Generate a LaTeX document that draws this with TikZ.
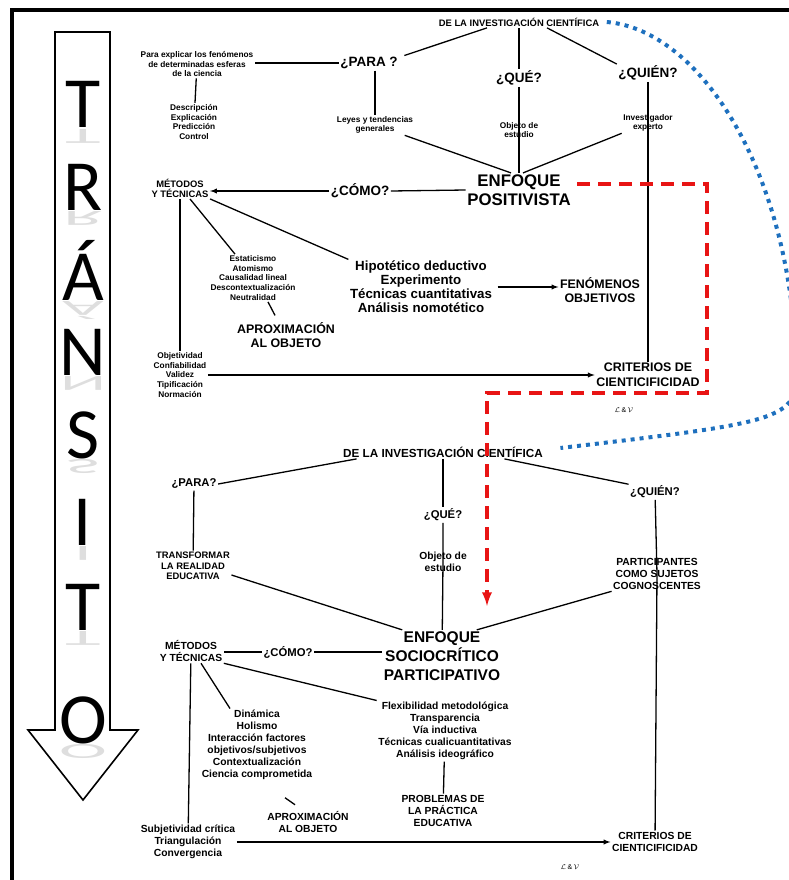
\documentclass[tikz,border=0pt]{standalone}
\usepackage{graphicx}
\usepackage{fontspec}
\setmainfont{Liberation Sans}
\newfontfamily\letrafont{Carlito}
\usetikzlibrary{arrows}
\definecolor{R}{RGB}{232, 20, 20}
\definecolor{B}{RGB}{30, 112, 190}
\tikzset{
  chica/.style={font=\bfseries\fontsize{8.3}{9.6}\selectfont, align=center, inner sep=1pt},
  media/.style={font=\bfseries\fontsize{9.4}{10.2}\selectfont, align=center, inner sep=1pt},
  grande/.style={font=\bfseries\fontsize{12.4}{14.8}\selectfont, align=center, inner sep=1pt},
  lista/.style={font=\bfseries\fontsize{13.3}{14}\selectfont, align=center, inner sep=1pt},
  pregunta/.style={font=\bfseries\fontsize{13.5}{15}\selectfont, inner sep=1pt},
  enfoque/.style={font=\bfseries\fontsize{16.8}{19}\selectfont, align=center, inner sep=1pt},
  normal/.style={font=\bfseries\fontsize{10.3}{12}\selectfont, align=center, inner sep=1pt},
  preg/.style={font=\bfseries\fontsize{11.3}{13}\selectfont, inner sep=1pt},
  titulo/.style={font=\bfseries\fontsize{11.7}{13}\selectfont, inner sep=1pt},
  enfoqueb/.style={font=\bfseries\fontsize{15.5}{19}\selectfont, align=center, inner sep=1pt},
  firma/.style={font=\fontsize{7}{7}\selectfont, inner sep=0pt},
  letra/.style={font=\letrafont\fontsize{72}{72}\selectfont, inner sep=0pt},
  rojo/.style={color=R, line width=3.6pt, dash pattern=on 13pt off 8pt},
  azul/.style={color=B, line width=4pt, dash pattern=on 4pt off 5pt}
}

\begin{document}
\begin{tikzpicture}[x=1pt, y=-1pt, line width=1.3pt]
  \useasboundingbox (0,0) rectangle (788,880);
  % Marco
  \draw[line width=4pt] (12,882) -- (12,10) -- (790,10);

  % Flecha del transito
  \draw[line width=1.6pt, fill=white] (55,32) -- (110,32) -- (110,730) -- (138,730)
     -- (83,800) -- (28,730) -- (55,730) -- cycle;
  \foreach \l/\y [count=\i] in {T/128, R/210, Á/300, N/375, S/458, I/545, T/630, O/743}{
     \node[letra, text=black!13, anchor=north] (s\i) at (83,\y+1) {\scalebox{1}[-0.3]{\l}};
     \node[letra, anchor=base] (l\i) at (83,\y) {\l};
  }

  % Enfoque positivista (arriba)
  \node[media] (dela1) at (519,22) {DE LA INVESTIGACIÓN CIENTÍFICA};
  \node[pregunta] (para1) at (369,63) {¿PARA ?};
  \node[pregunta] (que1) at (519,78) {¿QUÉ?};
  \node[pregunta] (quien1) at (648,73) {¿QUIÉN?};
  \node[chica] (explicar) at (197,64) {Para explicar los fenómenos\\de determinadas esferas\\de la ciencia};
  \node[chica] (descr) at (194,122) {Descripción\\Explicación\\Predicción\\Control};
  \node[chica] (leyes) at (375,125) {Leyes y tendencias\\generales};
  \node[chica] (objeto1) at (519,130) {Objeto de\\estudio};
  \node[chica] (invest) at (648,123) {Investigador\\experto};
  \node[enfoque] (enfoque1) at (519,190) {ENFOQUE\\POSITIVISTA};
  \node[pregunta] (como1) at (360,191) {¿CÓMO?};
  \node[media] (metodos1) at (180,188) {MÉTODOS\\Y TÉCNICAS};
  \node[chica] (estat) at (253,278) {Estaticismo\\Atomismo\\Causalidad lineal\\Descontextualización\\Neutralidad};
  \node[grande] (aprox1) at (286,335) {APROXIMACIÓN\\AL OBJETO};
  \node[lista] (hipo) at (421,287) {Hipotético deductivo\\Experimento\\Técnicas cuantitativas\\Análisis nomotético};
  \node[grande] (fenom) at (600,290) {FENÓMENOS\\OBJETIVOS};
  \node[chica] (objetiv) at (180,375) {Objetividad\\Confiabilidad\\Validez\\Tipificación\\Normación};
  \node[grande] (criterios1) at (648,375) {CRITERIOS DE\\CIENTICIFICIDAD};
  \node[firma] (firma1) at (624,410) {$\mathcal{L}\,\&\,\mathcal{V}$};

  \draw ([xshift=-32]dela1.south) -- ([xshift=5]para1.north east);
  \draw (dela1) -- (que1);
  \draw ([xshift=28]dela1.south) -- (quien1.north west);
  \draw (para1.west) -- (explicar.east |- para1.west);
  \draw (explicar) -- (descr);
  \draw (para1.south -| leyes.north) -- (leyes.north);
  \draw ([xshift=-10]leyes.south east) -- ([xshift=-8]enfoque1.north);
  \draw (que1) -- (objeto1.center) -- (enfoque1);
  \draw (quien1) -- (invest.center) -- (criterios1);
  \draw (invest.south west) -- ([xshift=4]enfoque1.north);
  \draw (enfoque1.west) -- (como1.east);
  \draw[-latex] (como1.west) -- (metodos1.east |- como1.west);
  \draw ([xshift=10]metodos1.south) -- ([xshift=-18]estat.north);
  \draw (metodos1.south east) -- (hipo.north west);
  \draw ([xshift=15]estat.south) -- ([xshift=-11,yshift=5]aprox1.north);
  \draw (metodos1) -- (objetiv);
  \draw[-latex] (objetiv) -- (criterios1);
  \draw[-latex] ([xshift=4]hipo.east) -- (hipo.east -| fenom.west);

  % Enfoque sociocritico (abajo)
  \node[titulo] (dela2) at (443,452) {DE LA INVESTIGACIÓN CIENTÍFICA};
  \node[preg] (para2) at (194,484) {¿PARA?};
  \node[preg] (que2) at (443,515) {¿QUÉ?};
  \node[preg] (quien2) at (655,492) {¿QUIÉN?};
  \node[normal, font=\bfseries\fontsize{9.4}{10.5}\selectfont] (transf) at (193,566) {TRANSFORMAR\\LA REALIDAD\\EDUCATIVA};
  \node[normal] (objeto2) at (443,562) {Objeto de\\estudio};
  \node[normal] (partic) at (657,574) {PARTICIPANTES\\COMO SUJETOS\\COGNOSCENTES};
  \node[enfoqueb] (enfoque2) at (442,656) {ENFOQUE\\SOCIOCRÍTICO\\PARTICIPATIVO};
  \node[preg] (como2) at (288,652) {¿CÓMO?};
  \node[normal] (metodos2) at (191,651) {MÉTODOS\\Y TÉCNICAS};
  \node[normal] (dinam) at (257,745) {Dinámica\\Holismo\\Interacción factores\\objetivos/subjetivos\\Contextualización\\Ciencia comprometida};
  \node[normal] (aprox2) at (308,822) {APROXIMACIÓN\\AL OBJETO};
  \node[normal] (flex) at (445,731) {Flexibilidad metodológica\\Transparencia\\Vía inductiva\\Técnicas cualicuantitativas\\Análisis ideográfico};
  \node[normal] (probl) at (443,811) {PROBLEMAS DE\\LA PRÁCTICA\\EDUCATIVA};
  \node[normal] (subj) at (188,842) {Subjetividad crítica\\Triangulación\\Convergencia};
  \node[normal] (criterios2) at (655,842) {CRITERIOS DE\\CIENTICIFICIDAD};
  \node[firma] (firma2) at (570,867) {$\mathcal{L}\,\&\,\mathcal{V}$};

  \draw ([xshift=15]dela2.south west) -- (para2.east);
  \draw (dela2) -- (que2);
  \draw ([xshift=-40]dela2.south east) -- (quien2.north west);
  \draw (que2) -- (objeto2.center) -- (enfoque2);
  \draw (quien2) -- (partic.center) -- (criterios2);
  \draw (partic.south west) -- ([xshift=-25]enfoque2.north east);
  \draw (para2) -- (transf);
  \draw ([yshift=-9]transf.east) -- ([xshift=20]enfoque2.north west);
  \draw (como2.east) -- (como2.east -| enfoque2.west);
  \draw (como2.west) -- (como2.west -| metodos2.east);
  \draw ([xshift=10]metodos2.south) -- ([xshift=-27]dinam.north);
  \draw (metodos2.south east) -- (flex.north west);
  \draw ([xshift=-23,yshift=12]aprox2.north) -- ([xshift=-13,yshift=5]aprox2.north);
  \draw (metodos2) -- (subj);
  \draw[-latex] (subj.east) -- (subj.east -| criterios2.west);
  \draw (flex) -- (probl);

  % Transito entre enfoques
  \coordinate (esqA) at (707,184);
  \coordinate (esqB) at (707,393);
  \coordinate (esqC) at (487,393);
  \draw[rojo, -latex] ([xshift=5,yshift=6]enfoque1.east) -- (esqA) -- (esqB) -- (esqC)
     -- ([yshift=24]esqC |- enfoque2.north);
  \draw[azul] ([xshift=6]dela1.east) .. controls (700,30) and (790,170) .. (796,362)
     .. controls (800,420) and (790,421) .. ([xshift=16,yshift=4]dela2.east);
\end{tikzpicture}
\end{document}
